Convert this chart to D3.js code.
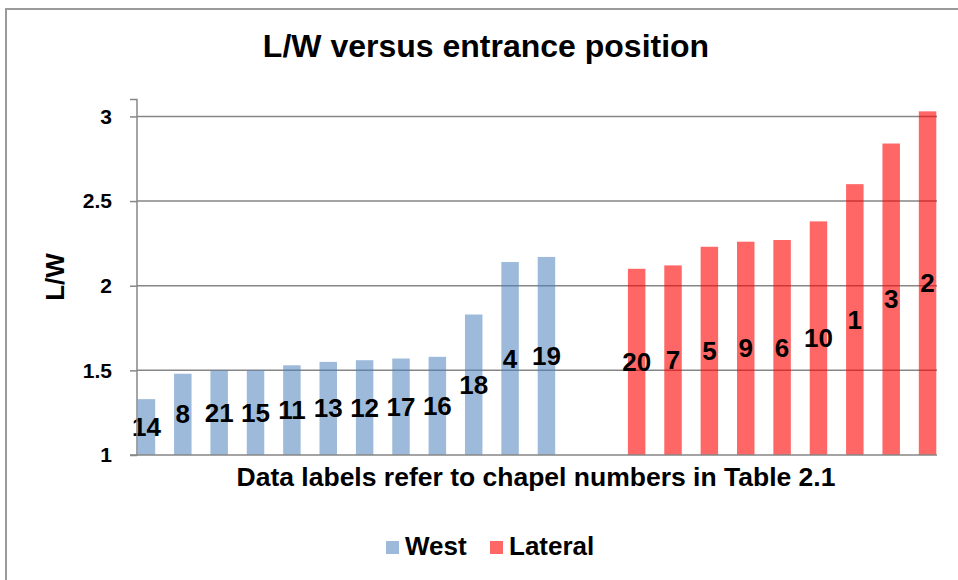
<!DOCTYPE html>
<html>
<head>
<meta charset="utf-8">
<script src="https://cdn.jsdelivr.net/npm/d3@7"></script>
<style>
  html, body { margin: 0; padding: 0; background: #fff; }
  svg { display: block; font-family: "Liberation Sans", Arial, sans-serif; font-weight: bold; }
</style>
</head>
<body>
<div id="chart"></div>
<script>
// chapel numbers (data labels) and L/W ratios
const westChapels = ["14", "8", "21", "15", "11", "13", "12", "17", "16", "18", "4", "19"];
const westValues = [1.33, 1.48, 1.50, 1.50, 1.53, 1.55, 1.56, 1.57, 1.58, 1.83, 2.14, 2.17];
const lateralChapels = ["20", "7", "5", "9", "6", "10", "1", "3", "2"];
const lateralValues = [2.10, 2.12, 2.23, 2.26, 2.27, 2.38, 2.60, 2.84, 3.03];
const seriesNames = ["West", "Lateral"];
const yTicks = [1, 1.5, 2, 2.5, 3];

const width = 958;
const height = 580;
const colors = { West: "#4f81bd", Lateral: "#ff0000" };

// one empty slot separates the two groups
const categories = [...westChapels.map((c) => "W" + c), "gap", ...lateralChapels.map((c) => "L" + c)];
const bars = [
  ...westChapels.map((c, i) => ({ key: "W" + c, series: "West", label: c, value: westValues[i] })),
  ...lateralChapels.map((c, i) => ({ key: "L" + c, series: "Lateral", label: c, value: lateralValues[i] })),
];

const svg = d3.select("#chart")
  .append("svg")
  .attr("width", width)
  .attr("height", height);

// chart area border (runs off the right and bottom edges)
svg.append("rect")
  .attr("x", 6).attr("y", 9)
  .attr("width", 1000).attr("height", 620)
  .attr("fill", "none")
  .attr("stroke", "#9a9a9a")
  .attr("stroke-width", 2);

const x0 = d3.scaleBand().domain(categories).range([137, 937]);
const x1 = d3.scaleBand().domain(seriesNames).range([0, x0.bandwidth()]).paddingOuter(0.04);
const y = d3.scaleLinear().domain([1, 3.1]).range([455, 99.5]);

// gridlines
svg.append("g")
  .selectAll("line")
  .data(yTicks.slice(1))
  .join("line")
  .attr("x1", 137).attr("x2", 937)
  .attr("y1", (d) => y(d)).attr("y2", (d) => y(d))
  .attr("stroke", "#868686")
  .attr("stroke-width", 1.5);

// bars (semi-transparent, gridlines show through)
svg.append("g")
  .selectAll("rect")
  .data(bars)
  .join("rect")
  .attr("x", (d) => x0(d.key) + x1(d.series))
  .attr("y", (d) => y(d.value))
  .attr("width", x1.bandwidth())
  .attr("height", (d) => y(1) - y(d.value))
  .attr("fill", (d) => colors[d.series])
  .attr("fill-opacity", (d) => (d.series === "West" ? 0.55 : 0.6));

// data labels centred in bars
svg.append("g")
  .selectAll("text")
  .data(bars)
  .join("text")
  .attr("x", (d) => x0(d.key) + x1(d.series) + x1.bandwidth() / 2)
  .attr("y", (d) => y((1 + d.value) / 2))
  .attr("text-anchor", "middle")
  .attr("dominant-baseline", "central")
  .attr("font-size", 26)
  .attr("fill", "#000")
  .text((d) => d.label);

// y axis
const yAxis = svg.append("g")
  .attr("transform", "translate(137,0)")
  .call(d3.axisLeft(y).tickValues(yTicks).tickSize(7).tickPadding(18).tickFormat(d3.format("")));
yAxis.select(".domain").attr("stroke", "#868686").attr("stroke-width", 1.5).attr("d", `M-7,${y(3.1)}H0V${y(1)}H-7`);
yAxis.selectAll(".tick line").attr("stroke", "#868686").attr("stroke-width", 1.5);
yAxis.selectAll(".tick text")
  .attr("font-size", 21)
  .attr("font-family", "Liberation Sans, Arial, sans-serif")
  .attr("font-weight", "bold")
  .attr("fill", "#000");

// x axis line
svg.append("line")
  .attr("x1", 137).attr("x2", 937)
  .attr("y1", y(1)).attr("y2", y(1))
  .attr("stroke", "#868686")
  .attr("stroke-width", 1.5);

// titles
svg.append("text")
  .attr("x", 486).attr("y", 57)
  .attr("text-anchor", "middle")
  .attr("font-size", 32)
  .text("L/W versus entrance position");

svg.append("text")
  .attr("transform", "translate(64,277) rotate(-90)")
  .attr("text-anchor", "middle")
  .attr("font-size", 26)
  .text("L/W");

svg.append("text")
  .attr("x", 536).attr("y", 486)
  .attr("text-anchor", "middle")
  .attr("font-size", 26.5)
  .text("Data labels refer to chapel numbers in Table 2.1");

// legend
const legend = svg.append("g").attr("transform", "translate(386,541)");
const legendX = [0, 104];
seriesNames.forEach((name, i) => {
  const g = legend.append("g").attr("transform", `translate(${legendX[i]},0)`);
  g.append("rect")
    .attr("width", 13).attr("height", 13)
    .attr("fill", colors[name])
    .attr("fill-opacity", name === "West" ? 0.55 : 0.6);
  g.append("text")
    .attr("x", 19).attr("y", 14)
    .attr("font-size", 26)
    .text(name);
});
</script>
</body>
</html>
